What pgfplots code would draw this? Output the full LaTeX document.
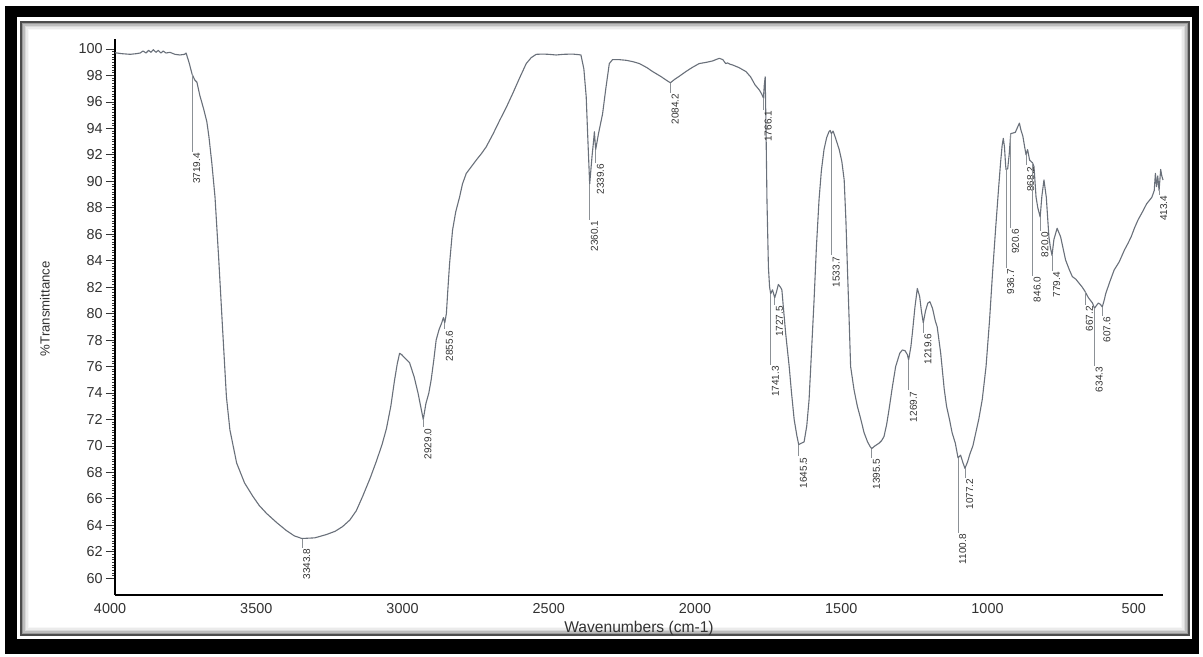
\documentclass[border=0pt]{standalone}
\usepackage{pgfplots}
\pgfplotsset{compat=1.18}
\usepackage{pgfplotstable}
\usepackage{fontspec}
\setmainfont{Liberation Sans}

\definecolor{trace}{RGB}{105,112,122}
\definecolor{inkgray}{RGB}{50,50,50}
\definecolor{leader}{RGB}{140,145,150}

% IR spectrum: wavenumber (cm^-1), %T
\pgfplotstableread{
wn T
3983 99.72
3960 99.65
3931 99.60
3910 99.65
3897 99.70
3887 99.85
3877 99.70
3868 99.90
3860 99.75
3852 99.95
3843 99.75
3835 99.90
3826 99.70
3818 99.85
3809 99.70
3795 99.75
3778 99.60
3761 99.55
3745 99.60
3740 99.70
3730 99.00
3719.4 98.10
3710 97.65
3703 97.50
3693 96.50
3679 95.40
3669 94.50
3662 93.40
3652 91.40
3641 88.80
3628 84.00
3615 78.80
3602 73.70
3590 71.20
3567 68.70
3540 67.20
3512 66.20
3490 65.50
3465 64.90
3430 64.20
3397 63.60
3370 63.20
3343.8 63.00
3300 63.05
3260 63.30
3230 63.55
3205 63.90
3180 64.40
3158 65.10
3136 66.20
3110 67.60
3090 68.80
3070 70.10
3055 71.30
3040 73.00
3027 75.00
3018 76.20
3010 77.00
3003 76.90
2990 76.60
2976 76.30
2960 75.20
2947 74.00
2938 73.00
2929 72.00
2920 73.20
2910 74.00
2902 75.00
2893 76.50
2885 78.00
2875 78.80
2866 79.30
2860 79.70
2855.6 79.30
2850 80.00
2845 81.80
2839 83.80
2829 86.30
2818 87.70
2805 88.80
2795 89.80
2782 90.60
2765 91.10
2748 91.60
2730 92.10
2714 92.60
2690 93.60
2668 94.60
2645 95.60
2623 96.65
2600 97.80
2577 98.90
2560 99.35
2543 99.60
2520 99.62
2500 99.60
2475 99.55
2450 99.60
2419 99.62
2400 99.58
2390 99.55
2380 98.50
2372 96.40
2366 93.00
2360.1 89.80
2352 91.90
2347 93.00
2344 93.75
2341 92.80
2339.6 92.40
2330 93.60
2316 95.10
2305 97.00
2293 98.90
2282 99.20
2260 99.20
2236 99.15
2213 99.05
2190 98.90
2165 98.60
2145 98.30
2115 97.90
2095 97.60
2084.2 97.45
2070 97.70
2050 98.00
2031 98.30
2010 98.60
1986 98.90
1960 99.00
1940 99.10
1917 99.30
1905 99.20
1895 98.90
1889 98.95
1880 98.85
1872 98.80
1850 98.60
1826 98.30
1810 97.90
1795 97.30
1780 96.90
1772 96.60
1766.1 96.30
1763 97.30
1760 97.90
1757 93.60
1754 88.60
1749 83.50
1745 82.00
1741.3 81.50
1735 81.80
1730 81.40
1727.5 81.20
1722 81.60
1715 82.20
1708 82.00
1703 81.80
1698 80.50
1690 78.50
1678 76.00
1670 74.00
1661 72.00
1652 70.80
1645.5 70.10
1637 70.20
1627 70.30
1618 71.50
1610 73.50
1602 77.00
1593 81.00
1585 85.00
1576 88.60
1568 90.80
1559 92.40
1550 93.30
1542 93.75
1538 93.85
1533.7 93.60
1528 93.80
1520 93.30
1507 92.40
1498 91.50
1490 90.10
1484 87.00
1479 83.50
1473 79.50
1468 76.00
1456 74.20
1445 73.00
1433 72.00
1422 71.00
1410 70.30
1400 69.90
1395.5 69.80
1385 70.00
1371 70.20
1362 70.40
1354 70.70
1345 71.60
1337 72.70
1325 74.50
1314 76.00
1300 77.00
1291 77.25
1282 77.20
1274 76.90
1269.7 76.50
1262 77.50
1257 78.50
1248 80.50
1240 81.90
1232 81.30
1226 80.20
1219.6 79.30
1212 80.20
1204 80.80
1197 80.90
1188 80.40
1178 79.40
1172 79.00
1160 77.00
1148 74.30
1140 73.00
1130 72.00
1121 71.00
1110 70.20
1100.8 69.10
1092 69.30
1085 68.80
1077.2 68.30
1068 68.80
1060 69.40
1050 70.00
1040 71.00
1030 72.00
1018 73.50
1005 76.00
993 79.50
983 83.00
972 86.50
962 89.50
955 91.50
950 92.70
946 93.25
942 92.60
938 91.20
936.7 90.90
931 90.95
926 92.00
920.6 93.60
913 93.65
905 93.70
897 94.10
891 94.40
886 93.90
879 93.40
873 92.60
868.2 92.00
863 92.40
856 91.60
851 91.50
846 91.40
841 91.10
834 88.80
828 88.00
820 87.30
814 88.90
807 90.10
799 88.80
790 85.80
785 85.00
779.4 84.40
773 85.60
762 86.45
750 85.80
733 84.05
720 83.30
710 82.80
698 82.60
687 82.30
676 82.00
667.2 81.70
655 81.20
641 80.80
634.3 80.40
628 80.60
621 80.80
614 80.70
607.6 80.50
600 81.10
596 81.50
582 82.40
567 83.30
550 83.90
532 84.80
520 85.30
509 85.80
497 86.50
485 87.10
470 87.70
456 88.30
445 88.60
438 88.80
430 89.30
426 90.60
422 89.60
418 90.40
413.4 89.30
408 90.90
404 90.40
400 90.10
}\spectrum

% peak marker: wavenumber, top of leader, bottom of leader, text
\newcommand{\peak}[4]{%
  \draw[leader, line width=0.35pt] (axis cs:#1,#2) -- (axis cs:#1,#3)
    node[rotate=90, anchor=north east, inner sep=0.4pt, text=inkgray,
         font=\fontsize{5}{6}\selectfont] {#4};}

\begin{document}
\begin{tikzpicture}
\path[use as bounding box] (0,0) rectangle (601.5pt,328.5pt);

% page frame with inner shadow
\begin{scope}[x=0.5pt, y=-0.5pt, yshift=328.5pt]
  \fill[black] (5,6) rectangle (1199,654);
  \fill[white] (17,17) rectangle (1192,639);
  \foreach \i/\c in {1.5/40,3/26,4.5/15,6/8,7.5/3}{
    \draw[black!\c, line width=0.8pt] (21+\i,22+\i) rectangle (1189-\i,635-\i);
  }
  \draw[black!70, line width=0.7pt] (21,22) rectangle (1189,635);
\end{scope}

\begin{axis}[
  at={(57.5pt,31pt)}, anchor=south west,
  scale only axis, width=524pt, height=278pt,
  x dir=reverse,
  xmin=400, xmax=3983, ymin=58.73, ymax=100.76,
  axis lines=left,
  axis line style={-, line width=0.6pt, black},
  xtick={500,1000,...,3500},
  ytick={60,62,...,100},
  minor y tick num=9,
  tick align=outside,
  major tick length=4.5pt, minor tick length=1.4pt,
  xtick style={draw=none},
  ytick style={line width=0.4pt, black!80},
  /pgf/number format/assume math mode=true,
  /pgf/number format/1000 sep={},
  tick label style={font=\fontsize{7.2}{8}\selectfont, text=inkgray},
  xticklabel style={anchor=north, inner sep=0pt, yshift=0.5pt},
  yticklabel style={anchor=east, inner sep=0pt, xshift=-1.5pt},
  xlabel={Wavenumbers (cm-1)},
  ylabel={\%Transmittance},
  xlabel style={at={(axis description cs:0.5,-0.0594)}, anchor=center,
    font=\fontsize{7.8}{9}\selectfont, text=inkgray},
  ylabel style={at={(axis description cs:-0.0668,0.515)}, anchor=center,
    font=\fontsize{6.6}{8}\selectfont, text=inkgray},
  clip=false,
]
\addplot[trace, line width=0.55pt, line join=round] table[x=wn, y=T] {\spectrum};

% 4000 sits just outside the recorded range
\node[anchor=north, inner sep=0pt, yshift=-4pt, text=inkgray,
      font=\fontsize{7.2}{8}\selectfont] at (axis cs:4000,58.73) {4000};

\peak{3719.4}{98.1}{92.2}{3719.4}
\peak{3343.8}{63.0}{62.3}{3343.8}
\peak{2929.0}{72.0}{71.4}{2929.0}
\peak{2855.6}{79.3}{78.8}{2855.6}
\peak{2360.1}{89.8}{87.1}{2360.1}
\peak{2339.6}{92.4}{91.4}{2339.6}
\peak{2084.2}{97.45}{96.7}{2084.2}
\peak{1766.1}{96.3}{95.4}{1766.1}
\peak{1741.3}{81.5}{76.1}{1741.3}
\peak{1727.5}{81.2}{80.65}{1727.5}
\peak{1645.5}{70.1}{69.2}{1645.5}
\peak{1533.7}{93.6}{84.4}{1533.7}
\peak{1395.5}{69.8}{69.1}{1395.5}
\peak{1269.7}{76.5}{74.2}{1269.7}
\peak{1219.6}{79.3}{78.55}{1219.6}
\peak{1100.8}{69.1}{63.4}{1100.8}
\peak{1077.2}{68.3}{67.6}{1077.2}
\peak{936.7}{90.9}{83.45}{936.7}
\peak{920.6}{93.6}{86.5}{920.6}
\peak{868.2}{92.0}{91.2}{868.2}
\peak{846.0}{91.4}{82.85}{846.0}
\peak{820.0}{87.3}{86.25}{820.0}
\peak{779.4}{84.4}{83.2}{779.4}
\peak{667.2}{81.7}{80.65}{667.2}
\peak{634.3}{80.4}{76.05}{634.3}
\peak{607.6}{80.5}{79.8}{607.6}
\peak{413.4}{89.3}{89.0}{413.4}
\end{axis}
\end{tikzpicture}
\end{document}
